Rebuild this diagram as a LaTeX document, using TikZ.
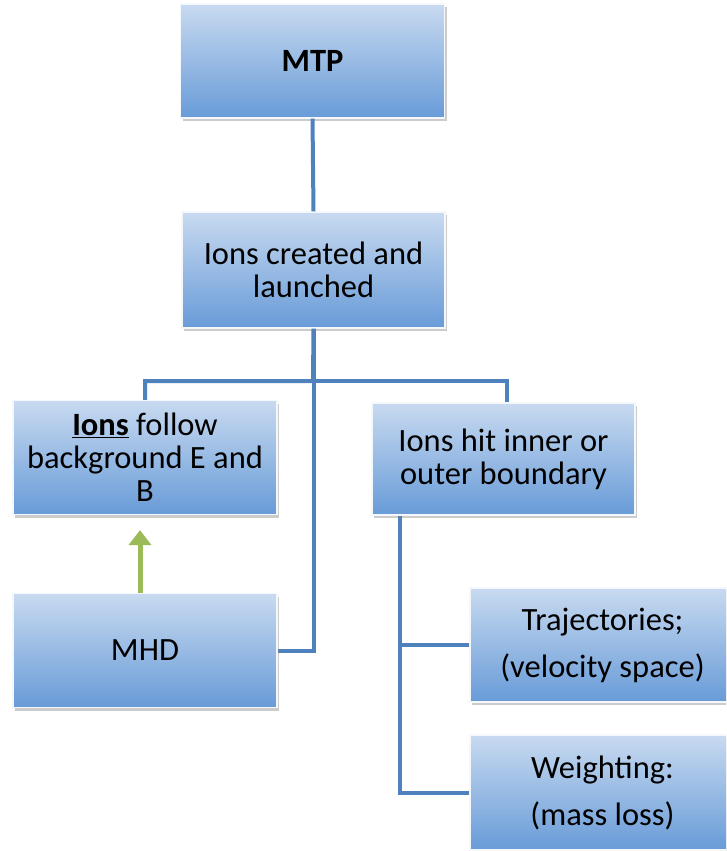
\documentclass[tikz,border=0pt]{standalone}
\usepackage{fontspec}
\setmainfont{Carlito}
\usepackage{tikz}
\usepackage{xcolor}
\usetikzlibrary{shadows, arrows.meta}

\definecolor{boxtop}{RGB}{200,218,240}
\definecolor{boxbot}{RGB}{104,155,216}
\definecolor{linkblue}{RGB}{79,129,189}
\definecolor{mhdgreen}{RGB}{155,187,89}

\begin{document}
\begin{tikzpicture}[x=1pt, y=-1pt,
        stage/.style={rectangle, top color=boxtop, bottom color=boxbot,
            draw=white!80!boxtop, line width=1.2pt,
            drop shadow={shadow xshift=2pt, shadow yshift=-3pt, opacity=0.4},
            minimum width=264pt, minimum height=114pt, align=center,
            font=\fontsize{32.5}{33}\selectfont},
        link/.style={draw=linkblue, line width=4pt},
        feed/.style={draw=mhdgreen, line width=5pt,
            -{Triangle[width=22pt, length=15pt]}}]
        \useasboundingbox (0,0) rectangle (726,851);
        \clip (0,0) rectangle (726,851);

        \coordinate (bus) at (313,381);
        \coordinate (trunk) at (400,0);

        % connectors first, boxes on top
        \path (312.5,61) node (mtp) {}
            (313.5,270) node (created) {}
            (145,457.5) node (follow) {}
            (503.5,459) node (hit) {}
            (145,650.5) node (mhd) {}
            (602.5,645) node (traj) {}
            (602.5,792.5) node (weight) {};

        \node[stage] (mtp) at (312.5,61) {\textbf{MTP}};
        \node[stage, minimum width=263pt, minimum height=116pt] (created) at (313.5,270) {Ions created and\\launched};

        \draw[link] (mtp.south) -- (created.north);
        \draw[link] (created.south) |- (mhd.east);
        \draw[link] (created.south) -- (bus) -| (follow.north);
        \draw[link] (bus) -| ([xshift=3.5pt]hit.north);
        \draw[link] (hit.south -| trunk) |- (traj.west);
        \draw[link] (hit.south -| trunk) |- (weight.west);

        \node[stage] (follow) at (145,457.5) {\underline{\textbf{Ions}} follow\\background E and\\B};
        \node[stage, minimum width=263pt, minimum height=112pt] (hit) at (503.5,459) {Ions hit inner or\\outer boundary};
        \node[stage] (mhd) at (145,650.5) {MHD};
        \node[stage, minimum width=265pt] (traj) at (602.5,645) {Trajectories;\\[14pt](velocity space)};
        \node[stage, minimum width=265pt, minimum height=115pt] (weight) at (602.5,792.5) {Weighting:\\[14pt](mass loss)};

        \draw[feed] ([xshift=-5pt]mhd.north) -- ([xshift=-5pt, yshift=-15pt]follow.south);
\end{tikzpicture}
\end{document}
